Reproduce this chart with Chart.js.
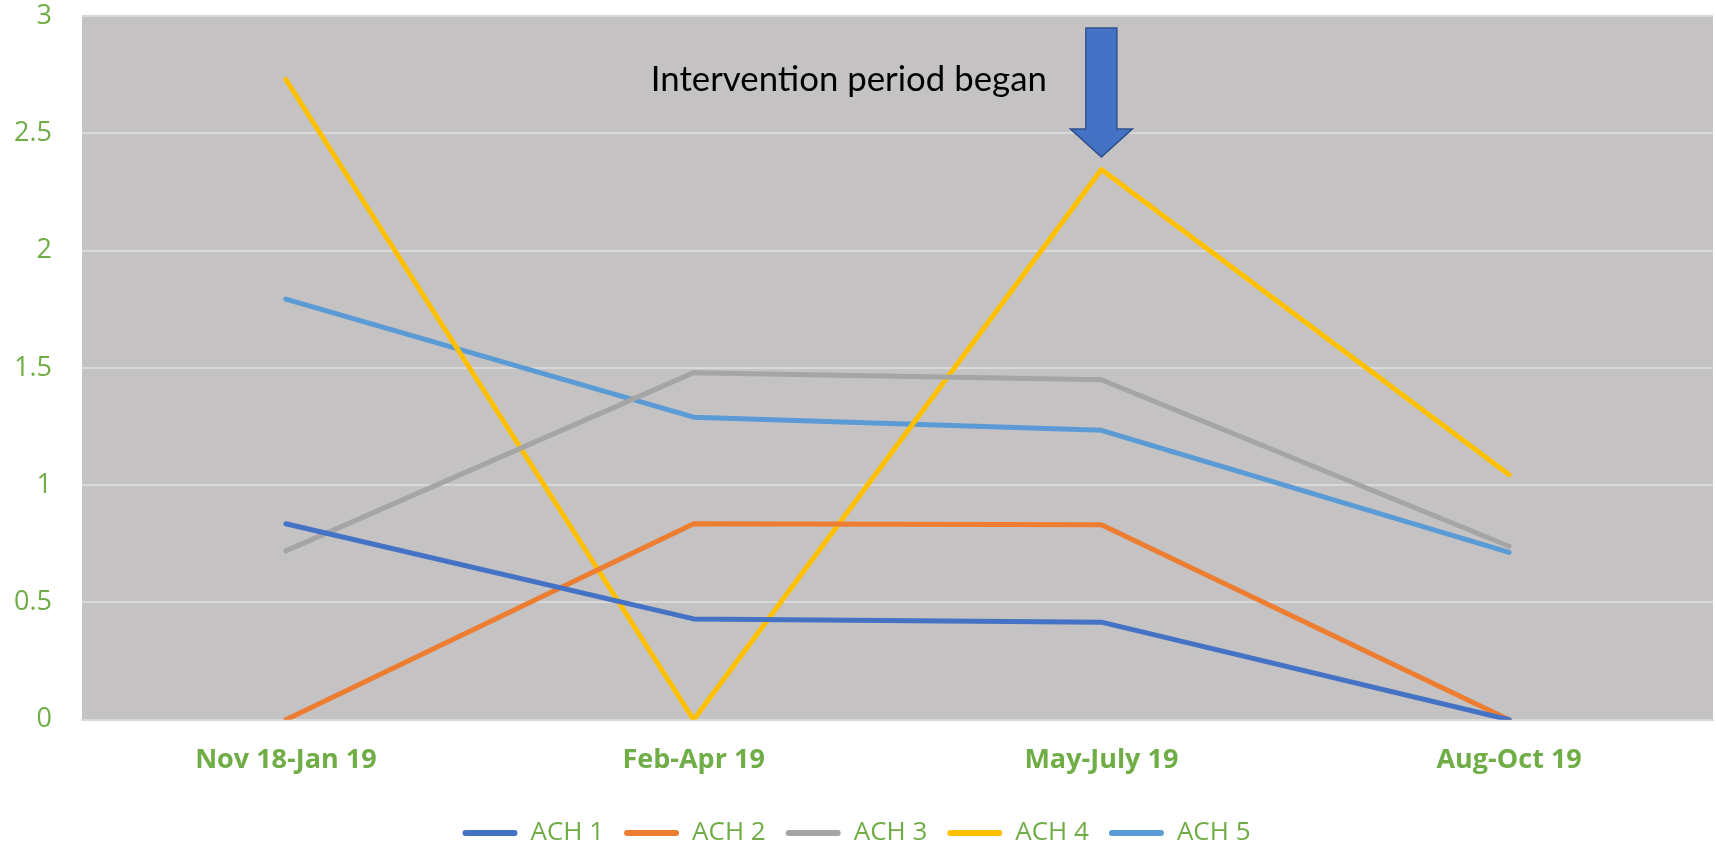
<!DOCTYPE html>
<html>
<head>
<meta charset="utf-8">
<script src="https://cdn.jsdelivr.net/npm/chart.js@4.4.0/dist/chart.umd.min.js"></script>
<style>
  html, body { margin: 0; padding: 0; background: #ffffff; }
  #wrap { width: 1716px; height: 846px; position: relative; }
</style>
</head>
<body>
<div id="wrap"><canvas id="ach-chart"></canvas></div>
<script>
// datos del gráfico
const periods = ["Nov 18-Jan 19", "Feb-Apr 19", "May-July 19", "Aug-Oct 19"];
const ach1 = [0.836, 0.43, 0.416, 0];
const ach2 = [0, 0.836, 0.832, 0];
const ach3 = [0.72, 1.48, 1.45, 0.74];
const ach4 = [2.73, 0, 2.346, 1.045];
const ach5 = [1.794, 1.29, 1.234, 0.714];
const yTicks = [0, 0.5, 1, 1.5, 2, 2.5, 3];

const seriesNames = ["ACH 1", "ACH 2", "ACH 3", "ACH 4", "ACH 5"];
const seriesColors = ["#4472c4", "#ed7d31", "#a5a5a5", "#ffc000", "#5b9bd5"];
const green = "#70ad47";

// nota de la intervención (en unidades de los ejes)
const noteText = "Intervention period began";
const noteAt = { x: 0.895, y: 2.68 };
const arrowAt = { x: 2, top: 2.95, tip: 2.4 };

// fondo gris del área del gráfico
const plotBackground = {
  id: "plotBackground",
  beforeDraw(chart) {
    const { ctx, chartArea: a } = chart;
    ctx.save();
    ctx.fillStyle = "#c4c2c3";
    ctx.fillRect(a.left, a.top, a.right - a.left, a.bottom - a.top);
    ctx.restore();
  }
};

// flecha y texto
const intervention = {
  id: "intervention",
  afterDraw(chart) {
    const { ctx, scales } = chart;
    const x = scales.x, y = scales.y;
    const cat = x.getPixelForValue(1) - x.getPixelForValue(0);
    ctx.save();
    ctx.fillStyle = "#000000";
    ctx.font = "35px Lato";
    ctx.textBaseline = "alphabetic";
    ctx.fillText(noteText, x.getPixelForValue(noteAt.x), y.getPixelForValue(noteAt.y), 396);

    const cx = x.getPixelForValue(arrowAt.x);
    const top = y.getPixelForValue(arrowAt.top);
    const tip = y.getPixelForValue(arrowAt.tip);
    const headTop = tip - 28;
    const shaft = cat * 0.038, head = cat * 0.076;
    ctx.beginPath();
    ctx.moveTo(cx - shaft, top);
    ctx.lineTo(cx + shaft, top);
    ctx.lineTo(cx + shaft, headTop);
    ctx.lineTo(cx + head, headTop);
    ctx.lineTo(cx, tip);
    ctx.lineTo(cx - head, headTop);
    ctx.lineTo(cx - shaft, headTop);
    ctx.closePath();
    ctx.fillStyle = "#4472c4";
    ctx.fill();
    ctx.lineWidth = 1.5;
    ctx.strokeStyle = "#2f528f";
    ctx.stroke();
    ctx.restore();
  }
};

const allData = [ach1, ach2, ach3, ach4, ach5];
const datasets = allData.map((values, i) => ({
  label: seriesNames[i],
  data: values,
  borderColor: seriesColors[i],
  backgroundColor: seriesColors[i],
  borderWidth: 5,
  pointRadius: 0,
  tension: 0,
  borderCapStyle: "round",
  borderJoinStyle: "round"
}));

new Chart(document.getElementById("ach-chart"), {
  type: "line",
  data: { labels: periods, datasets: datasets },
  options: {
    responsive: true,
    maintainAspectRatio: false,
    animation: false,
    layout: { padding: { top: 16, right: 3, left: 0, bottom: -10 } },
    scales: {
      x: {
        offset: true,
        grid: { display: false, drawTicks: false },
        border: { display: true, color: "#d9d9d9", width: 2 },
        ticks: {
          color: green,
          font: { family: "Open Sans", size: 27, weight: "bold", lineHeight: 0.75 },
          padding: 30,
          maxRotation: 0
        }
      },
      y: {
        min: 0,
        max: 3,
        afterBuildTicks(axis) { axis.ticks = yTicks.map(v => ({ value: v })); },
        afterFit(axis) { axis.width = 82; },
        grid: { color: "#d9d9d9", lineWidth: 2, drawTicks: true, tickLength: 30, tickColor: "rgba(0,0,0,0)" },
        border: { display: false },
        ticks: {
          color: green,
          font: { family: "Open Sans", size: 27 },
          padding: 0,
          callback: v => String(v)
        }
      }
    },
    plugins: {
      legend: {
        position: "bottom",
        labels: {
          color: green,
          font: { family: "Open Sans", size: 26 },
          boxWidth: 55,
          boxHeight: 6,
          padding: 20,
          useBorderRadius: true,
          borderRadius: 3,
          generateLabels(chart) {
            return Chart.defaults.plugins.legend.labels.generateLabels(chart).map(l => ({ ...l, lineWidth: 0 }));
          }
        }
      },
      tooltip: { enabled: false }
    }
  },
  plugins: [plotBackground, intervention]
});
</script>
</body>
</html>
